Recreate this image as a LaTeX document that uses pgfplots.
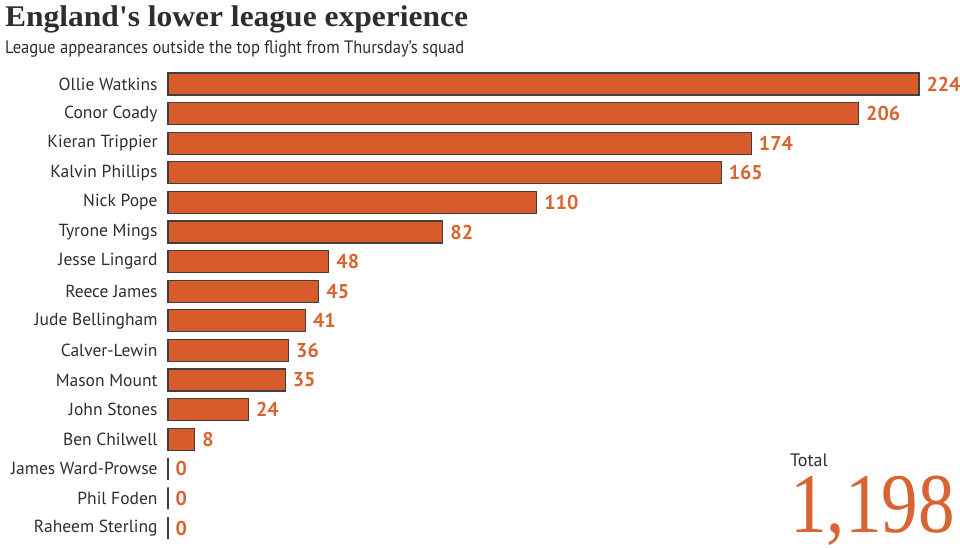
\documentclass[border=0pt]{standalone}
\usepackage{pgfplots}
\pgfplotsset{compat=1.18}
\usepackage{graphicx}
\usepackage{fontspec}
\setmainfont{PT Sans}
\newfontfamily\seriffont{Liberation Serif}
\definecolor{barfill}{HTML}{D85B2C}
\definecolor{valcol}{HTML}{DA6431}
\definecolor{txt}{HTML}{2E2E2E}
\pgfplotstableread{
y v
0 224
1 206
2 174
3 165
4 110
5 82
6 48
7 45
8 41
9 36
10 35
11 24
12 8
13 0
14 0
15 0
}\datatab
\begin{document}
\begin{tikzpicture}
\useasboundingbox (0pt,0pt) rectangle (960pt,547pt);
\node[anchor=base west, inner sep=0, text=txt, font=\seriffont\bfseries\fontsize{30}{31}\selectfont] at (5pt,520pt) {\scalebox{1.05}[1]{England's lower league experience}};
\node[anchor=base west, inner sep=0, text=txt, font=\fontsize{18}{19}\selectfont] at (5pt,493pt) {\scalebox{0.92}[1]{League appearances outside the top flight from Thursday's squad}};
\begin{axis}[
  at={(168pt,4.2pt)}, anchor=south west,
  scale only axis, width=751pt, height=473.6pt,
  xbar, bar width=22pt,
  xmin=0, xmax=224, ymin=-0.5, ymax=15.5, enlargelimits=false,
  y dir=reverse,
  hide x axis,
  axis line style={draw=none},
  ytick=data, ytick style={draw=none},
  yticklabels={Ollie Watkins,Conor Coady,Kieran Trippier,Kalvin Phillips,Nick Pope,Tyrone Mings,Jesse Lingard,Reece James,Jude Bellingham,Calver-Lewin,Mason Mount,John Stones,Ben Chilwell,James Ward-Prowse,Phil Foden,Raheem Sterling},
  yticklabel style={font=\fontsize{17.5}{18}\selectfont, text=txt, inner sep=0pt, xshift=-6pt},
  clip=false,
  point meta=x,
  nodes near coords={\pgfmathprintnumber[assume math mode=true]{\pgfplotspointmeta}},
  nodes near coords style={font=\bfseries\fontsize{20}{20}\selectfont, text=valcol, anchor=west, inner sep=0pt, xshift=7pt},
]
\addplot[fill=barfill, draw=black!75, line width=1.1pt] table[x=v, y=y] {\datatab};
\end{axis}
\node[anchor=base west, inner sep=0, text=txt, font=\fontsize{18}{18}\selectfont] at (790pt,81pt) {Total};
\node[anchor=base west, inner sep=0, text=valcol, font=\seriffont\fontsize{85}{85}\selectfont] at (790pt,15pt) {\scalebox{0.86}[1]{1,198}};
\end{tikzpicture}
\end{document}
